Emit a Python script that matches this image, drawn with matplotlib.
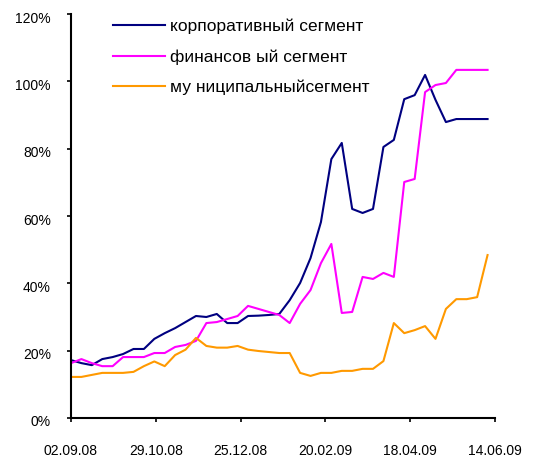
import matplotlib.pyplot as plt
import matplotlib.dates as mdates
from matplotlib.ticker import PercentFormatter
from matplotlib.transforms import ScaledTranslation
import pandas as pd

plt.rcParams['font.family'] = ['Liberation Sans', 'DejaVu Sans']

# weekly dates, 02.09.08 - 09.06.09
dates = pd.date_range("2008-09-02", periods=41, freq="7D")

# values, %
korp = [17.2, 16.3, 15.7, 17.5, 18.1, 19.0, 20.5, 20.5, 23.5, 25.2,
        26.7, 28.5, 30.3, 30.0, 30.9, 28.2, 28.2, 30.3, 30.4, 30.6,
        30.9, 35.0, 40.1, 47.5, 58.2, 76.9, 81.7, 62.1, 60.9, 62.1,
        80.5, 82.6, 94.7, 95.9, 101.9, 94.5, 87.9, 88.8, 88.8, 88.8, 88.8]
fin = [16.3, 17.5, 16.3, 15.4, 15.4, 18.1, 18.1, 18.1, 19.3, 19.3,
       21.1, 21.7, 22.9, 28.2, 28.5, 29.4, 30.3, 33.3, 32.4, 31.5,
       30.6, 28.2, 33.9, 38.0, 46.0, 51.7, 31.2, 31.5, 41.9, 41.3,
       43.1, 41.9, 70.1, 71.0, 96.8, 98.9, 99.5, 103.4, 103.4, 103.4, 103.4]
mun = [12.2, 12.2, 12.8, 13.4, 13.4, 13.4, 13.7, 15.4, 16.8, 15.4,
       18.7, 20.3, 23.8, 21.4, 20.9, 20.9, 21.4, 20.3, 19.9, 19.6,
       19.3, 19.3, 13.4, 12.5, 13.4, 13.4, 14.0, 14.0, 14.6, 14.6,
       16.9, 28.2, 25.2, 26.1, 27.3, 23.5, 32.4, 35.3, 35.3, 35.9, 48.4]

labels = ["корпоративный сегмент", "финансов ый сегмент", "му ниципальныйсегмент"]
colors = ["#000080", "#FF00FF", "#FF9900"]
tick_dates = pd.to_datetime(["2008-09-02", "2008-10-29", "2008-12-25",
                             "2009-02-20", "2009-04-18", "2009-06-14"])

fig = plt.figure(figsize=(5.34, 4.59), dpi=100)
ax = fig.add_axes([71/534, 1 - 418/459, (495 - 71)/534, (418 - 14)/459])

for ys, lab, c in zip([korp, fin, mun], labels, colors):
    ax.plot(dates, ys, color=c, lw=1.5, label=lab)

ax.set_xlim(tick_dates[0], tick_dates[-1])
ax.set_ylim(0, 120)
ax.set_yticks(range(0, 121, 20))
ax.yaxis.set_major_formatter(PercentFormatter(decimals=0))
ax.set_xticks(tick_dates)
ax.xaxis.set_major_formatter(mdates.DateFormatter("%d.%m.%y"))

for s in ["top", "right"]:
    ax.spines[s].set_visible(False)
for s in ["left", "bottom"]:
    ax.spines[s].set_linewidth(1.5)
ax.tick_params(length=3, width=1.2, labelsize=10)
ax.tick_params(axis="y", pad=11.5)
ax.tick_params(axis="x", pad=16)
# y labels sit a little below their ticks in the original
shift = ScaledTranslation(0, -3/100, fig.dpi_scale_trans)
for t in ax.get_yticklabels():
    t.set_transform(t.get_transform() + shift)

ax.legend(loc="upper left", bbox_to_anchor=(113/534, 1 - 19/459),
          bbox_transform=fig.transFigure, frameon=False, fontsize=12.5,
          handlelength=3.0, handletextpad=0.3, labelspacing=0.85,
          borderpad=0, borderaxespad=0)

fig.savefig("out.png", dpi=100)
